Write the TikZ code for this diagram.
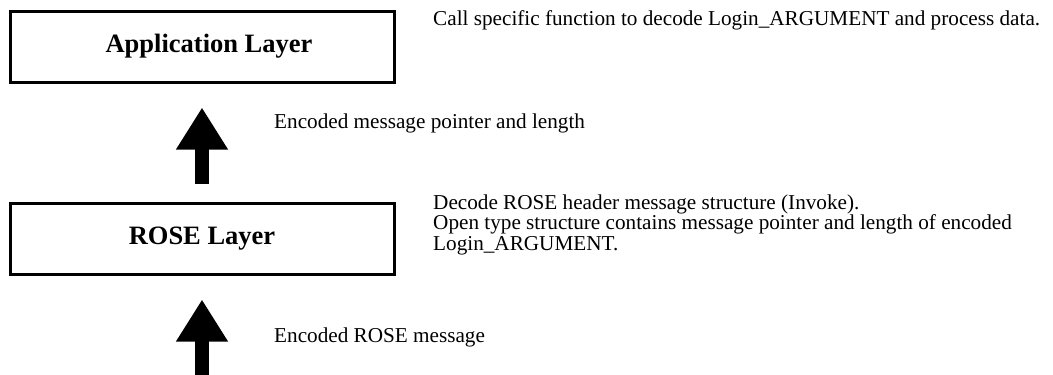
\documentclass[tikz,border=0pt]{standalone}
\usepackage{fontspec}
\setmainfont{Liberation Serif}
\usetikzlibrary{arrows.meta}
\begin{document}
\begin{tikzpicture}[x=1pt,y=-1pt,
  layer/.style={draw, line width=3pt, minimum width=384pt, minimum height=71pt,
    inner sep=0pt, font=\fontsize{26.5}{30}\selectfont\bfseries},
  note/.style={anchor=base west, inner sep=0pt,
    font=\fontsize{21.2}{20.5}\selectfont, align=left},
  flow/.style={line width=14pt, -{Triangle[length=42pt,width=49pt]}}]
\useasboundingbox (0,0) rectangle (1053,375);
% the two protocol layers
\node[layer] (app)  at (202,46.5)  {\hspace*{14pt}Application Layer};
\node[layer] (rose) at (202,238.5) {ROSE Layer};
% upward data flow
\coordinate (src) at (202,375);
\draw[flow] (src) -- ([yshift=-24pt]rose.south);
\draw[flow] ([yshift=18pt]rose.north) -- ([yshift=-24pt]app.south);
% annotations (base anchor = baseline of the last line)
\node[note] (appnote) at (433,25)
  {Call specific function to decode Login\_ARGUMENT and process data.};
\node[note] (upmsg) at (274,128)
  {Encoded message pointer and length};
\node[note] (rosenote) at (433,250)
  {Decode ROSE header message structure (Invoke).\\
   Open type structure contains message pointer and length of encoded\\
   Login\_ARGUMENT.};
\node[note] (inmsg) at (274,342)
  {Encoded ROSE message};
\end{tikzpicture}
\end{document}
